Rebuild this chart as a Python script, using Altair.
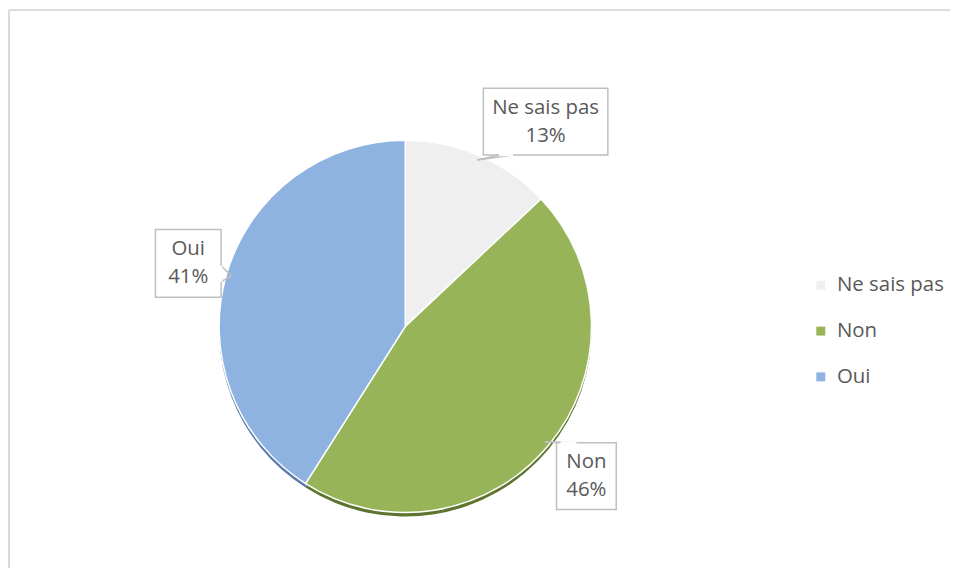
import math
import altair as alt
import pandas as pd

# ---- data ----
categories = ["Ne sais pas", "Non", "Oui"]
values = [13, 46, 41]

# ---- style ----
colors = ["#EFEFEF", "#97B558", "#8FB3E0"]
shadow_colors = ["#BDBDBD", "#5E7530", "#5B7CAD"]
FONT = "Open Sans"
FS = 20.5
TXT = "#595959"
BOX = "#BFBFBF"
CX, CY, R = 398, 317.5, 187        # pie centre / radius (pixels in plot area)
label_radius = {"Ne sais pas": 249, "Non": 236, "Oui": 227}
label_nudge = {"Ne sais pas": (42, 23), "Non": (0, 0), "Oui": (0, 0)}
box_size = {"Ne sais pas": (125, 67), "Non": (60, 67), "Oui": (66, 68)}
ANCHOR_R = 182

total = sum(values)
rows = []
cum = 0
for i, (c, v) in enumerate(zip(categories, values)):
    mid = (cum + v / 2) / total * 2 * math.pi
    cum += v
    lr = label_radius[c]
    nx, ny = label_nudge[c]
    bx = CX + lr * math.sin(mid) + nx
    by = CY - lr * math.cos(mid) + ny
    w, h = box_size[c]
    ax = CX + ANCHOR_R * math.sin(mid)
    ay = CY - ANCHOR_R * math.cos(mid)
    rows.append(dict(cat=c, val=v, idx=i, pct=f"{round(v / total * 100)}%",
                     bx=bx, by=by, x1=bx - w / 2, x2=bx + w / 2,
                     y1=by - h / 2, y2=by + h / 2, ax=ax, ay=ay,
                     ty1=by - 14, ty2=by + 14))
df = pd.DataFrame(rows)

# callout tails: from two points on box edge toward anchor
tails = []
for r in rows:
    ax, ay = r["ax"], r["ay"]
    if ay > r["y2"]:          # anchor below box
        ex = min(max(ax + 22, r["x1"] + 6), r["x2"] - 20)
        p1, p2 = (ex, r["y2"]), (ex + 14, r["y2"])
    elif ay < r["y1"]:        # anchor above box
        ex = min(max(ax + 4, r["x1"] + 4), r["x2"] - 20)
        p1, p2 = (ex, r["y1"]), (ex + 16, r["y1"])
    elif ax > r["x2"]:        # anchor right of box
        ey = min(max(ay - 10, r["y1"] + 4), r["y2"] - 20)
        p1, p2 = (r["x2"], ey), (r["x2"], ey + 16)
    else:
        ey = min(max(ay - 10, r["y1"] + 4), r["y2"] - 20)
        p1, p2 = (r["x1"], ey), (r["x1"], ey + 16)
    tails.append(dict(x=p1[0], y=p1[1], x2=ax, y2=ay, kind="line"))
    tails.append(dict(x=ax, y=ay, x2=p2[0], y2=p2[1], kind="line"))
    tails.append(dict(x=p1[0], y=p1[1], x2=p2[0], y2=p2[1], kind="gap"))
tdf = pd.DataFrame(tails)

W, H = 945, 560
base = alt.Chart(df)

color_scale = alt.Scale(domain=categories, range=colors)
shadow_scale = alt.Scale(domain=categories, range=shadow_colors)

shadow = base.mark_arc(outerRadius=R).encode(
    theta=alt.Theta("val:Q", stack=True),
    order=alt.Order("idx:Q"),
    fill=alt.Fill("cat:N", scale=shadow_scale, legend=None),
    x=alt.value(CX), y=alt.value(CY + 4),
)

pie = base.mark_arc(outerRadius=R, stroke="white", strokeWidth=1.5).encode(
    theta=alt.Theta("val:Q", stack=True),
    order=alt.Order("idx:Q"),
    color=alt.Color("cat:N", scale=color_scale, sort=categories,
                    legend=alt.Legend(title=None, orient="none",
                                      legendX=805, legendY=266,
                                      symbolType="square", symbolSize=81,
                                      symbolStrokeWidth=0,
                                      labelFont=FONT, labelFontSize=20.5,
                                      labelColor=TXT, labelOffset=6,
                                      labelLimit=300,
                                      rowPadding=25)),
    x=alt.value(CX), y=alt.value(CY),
)

tail_lines = alt.Chart(tdf).transform_filter(alt.datum.kind == "line").mark_rule(
    color=BOX, strokeWidth=1.5).encode(
    x=alt.X("x:Q", scale=None), y=alt.Y("y:Q", scale=None),
    x2="x2:Q", y2="y2:Q")

boxes = base.mark_rect(fill="white", stroke=BOX, strokeWidth=1.5).encode(
    x=alt.X("x1:Q", scale=None), x2="x2:Q",
    y=alt.Y("y1:Q", scale=None), y2="y2:Q")

gaps = alt.Chart(tdf).transform_filter(alt.datum.kind == "gap").mark_rule(
    color="white", strokeWidth=2.5).encode(
    x=alt.X("x:Q", scale=None), y=alt.Y("y:Q", scale=None),
    x2="x2:Q", y2="y2:Q")

t1 = base.mark_text(font=FONT, fontSize=FS, color=TXT, baseline="middle").encode(
    x=alt.X("bx:Q", scale=None), y=alt.Y("ty1:Q", scale=None), text="cat:N")
t2 = base.mark_text(font=FONT, fontSize=FS, color=TXT, baseline="middle").encode(
    x=alt.X("bx:Q", scale=None), y=alt.Y("ty2:Q", scale=None), text="pct:N")

border_top = alt.Chart(df).mark_rule(color="#D9D9D9", strokeWidth=1.5).encode(
    x=alt.value(0), x2=alt.value(W), y=alt.value(0))
border_left = alt.Chart(df).mark_rule(color="#D9D9D9", strokeWidth=1.5).encode(
    x=alt.value(0), y=alt.value(0), y2=alt.value(H))

chart = alt.layer(
    border_top, border_left, shadow, pie, tail_lines, boxes, gaps, t1, t2
).resolve_scale(color="independent", fill="independent").properties(
    width=W, height=H, padding=0
).configure_view(strokeOpacity=0, strokeWidth=0)

chart.save("out.html", embed_options={"renderer": "svg", "actions": False})
